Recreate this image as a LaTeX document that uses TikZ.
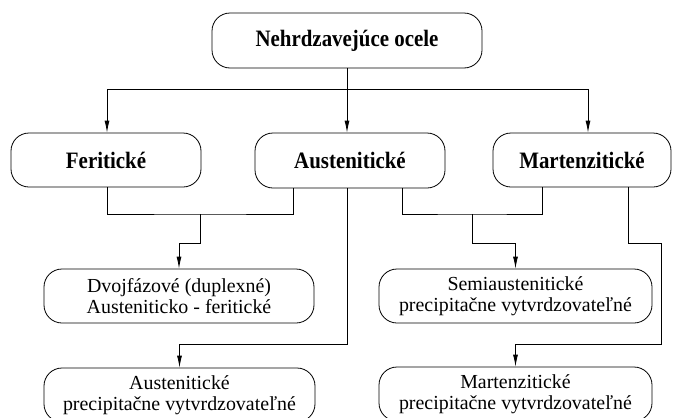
\documentclass[tikz,border=0pt]{standalone}
\usepackage{fontspec}
\setmainfont{Liberation Serif}
\newfontfamily\condbold[FakeStretch=0.89,BoldFont={Liberation Serif Bold}]{Liberation Serif}
\usetikzlibrary{arrows.meta}
\begin{document}
\begin{tikzpicture}[x=1pt,y=-1pt,
  box/.style={draw, rounded corners=18pt, line width=0.8pt, align=center, inner sep=0pt},
  conn/.style={line width=0.8pt},
  arr/.style={conn, -{Latex[length=12pt,width=5pt]}},
  titlefont/.style={font=\condbold\fontsize{23.5}{26}\selectfont\bfseries},
  bodyfont/.style={font=\fontsize{19.9}{21.5}\selectfont}]
\useasboundingbox (0,0) rectangle (673,418);
\clip (0,0) rectangle (673,418);
% nodes
\node[box,titlefont,minimum width=270pt,minimum height=55pt] (top) at (347,40.5) {Nehrdzavejúce ocele};
\node[box,titlefont,minimum width=190pt,minimum height=54pt] (fer) at (106,160) {Feritické};
\node[box,titlefont,minimum width=190pt,minimum height=55pt] (aus) at (350,160.5) {Austenitické};
\node[box,titlefont,minimum width=178pt,minimum height=54pt] (mar) at (582,160) {Martenzitické};
\node[box,bodyfont,minimum width=270pt,minimum height=54pt] (dup) at (179,296) {Dvojfázové (duplexné)\\Austeniticko - feritické};
\node[box,bodyfont,minimum width=273pt,minimum height=54pt] (semi) at (515.5,296) {Semiaustenitické\\precipitačne vytvrdzovateľné};
\node[box,bodyfont,minimum width=271pt,minimum height=54pt] (ap) at (179.5,395) {Austenitické\\precipitačne vytvrdzovateľné};
\node[box,bodyfont,minimum width=273pt,minimum height=54pt] (mp) at (515.5,394) {Martenzitické\\precipitačne vytvrdzovateľné};
% junction coordinates
\coordinate (hL) at (107,89);
\coordinate (hR) at (588,89);
\coordinate (j1) at (200,214);
\coordinate (j2) at (472,214);
\coordinate (k1) at (179,243);
\coordinate (k2) at (515.5,243);
\coordinate (k3) at (661,243);
\coordinate (m1) at (179.5,344);
\coordinate (m2) at (515.5,344);
% top level connectors
\draw[conn] (hL) -- (hR);
\draw[arr] (top.south) -- (top.south |- aus.north);
\draw[arr] (hL) -- (hL |- fer.north);
\draw[arr] (hR) -- (hR |- mar.north);
% feritic + austenitic -> duplex
\draw[conn] ([xshift=1pt]fer.south) |- (j1) -| ([xshift=-57pt]aus.south);
\draw[arr] (j1) |- (k1) -- (dup.north);
% austenitic -> austenitic precipitation
\draw[arr] ([xshift=-3pt]aus.south) |- (m1) -- (ap.north);
% austenitic + martensitic -> semiaustenitic
\draw[conn] ([xshift=52pt]aus.south) |- (j2) -| ([xshift=-40pt]mar.south);
\draw[arr] (j2) |- (k2) -- (semi.north);
% martensitic -> martensitic precipitation
\draw[arr] ([xshift=46pt]mar.south) |- (k3) |- (m2) -- (mp.north);
\end{tikzpicture}
\end{document}
